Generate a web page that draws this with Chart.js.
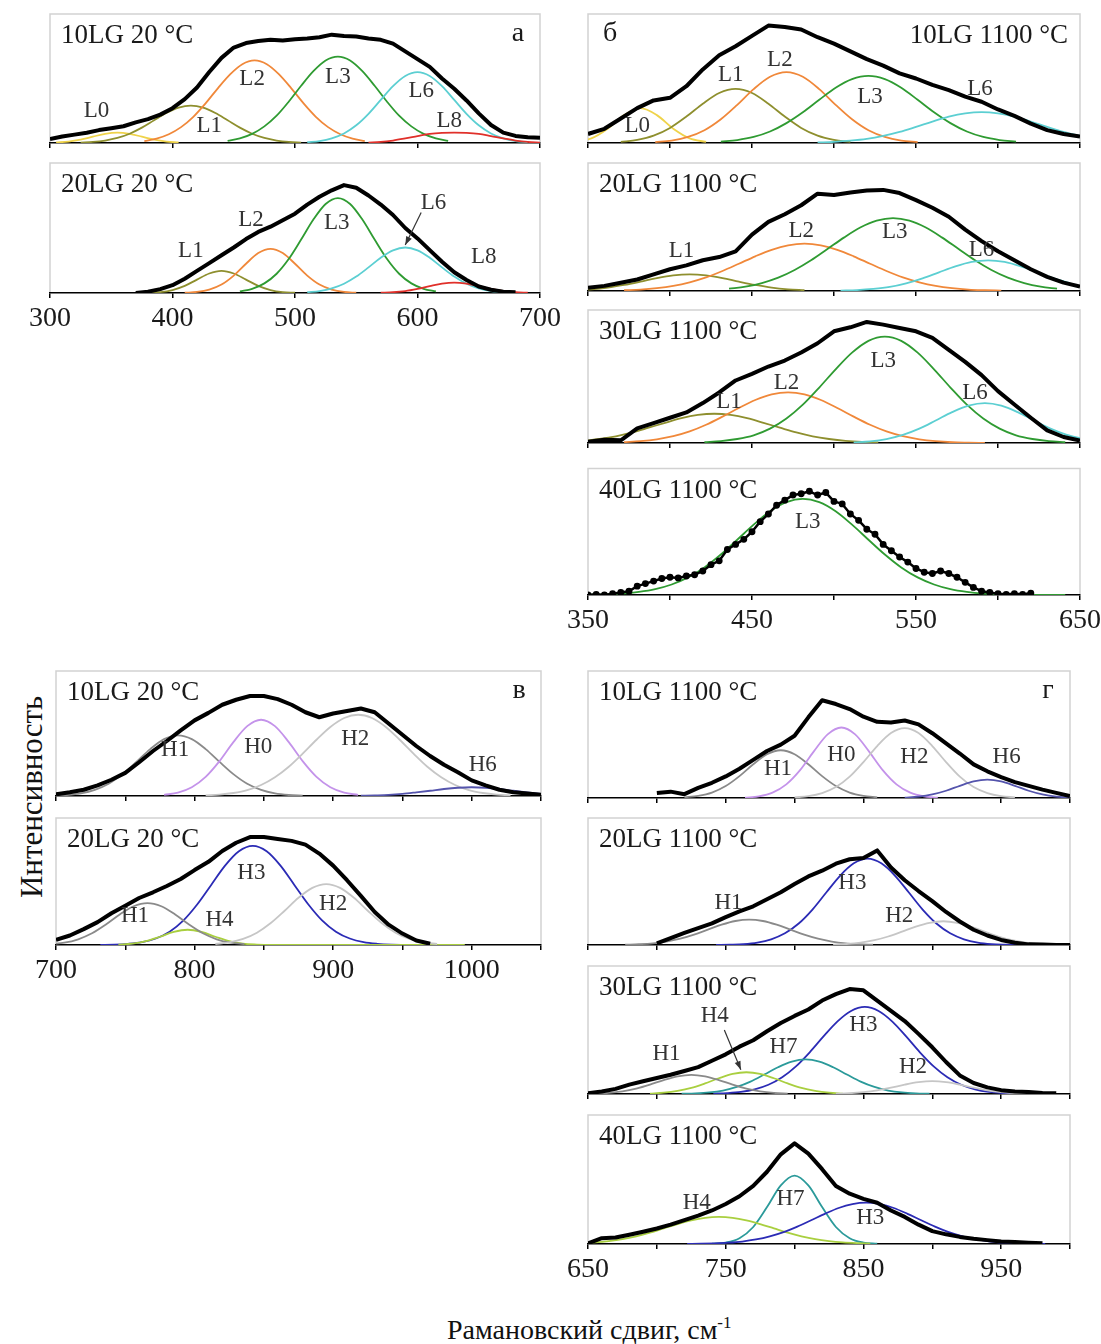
<!DOCTYPE html>
<html>
<head>
<meta charset="utf-8">
<script src="https://cdn.jsdelivr.net/npm/chart.js@4.4.1/dist/chart.umd.min.js"></script>
<style>
  html, body { margin: 0; padding: 0; background: #fff; }
  #page { position: relative; width: 1101px; height: 1344px; overflow: hidden;
          font-family: "Liberation Serif", "DejaVu Serif", serif; color: #111; }
  #page canvas { position: absolute; }
  .ytitle { position: absolute; left: 32px; top: 797px; font-size: 31px; white-space: nowrap;
            transform: translate(-50%, -50%) rotate(-90deg); }
  .xtitle { position: absolute; left: 447px; top: 1330px; font-size: 28px; white-space: nowrap;
            transform: translateY(-50%); }
  .xtitle sup { font-size: 17px; vertical-align: 11px; line-height: 0; }
</style>
</head>
<body>
<div id="page">
  <div class="ytitle">Интенсивность</div>
  <div class="xtitle">Рамановский сдвиг, см<sup>-1</sup></div>
</div>
<script>
// ---------- measured spectra (black), values every 10 cm-1 unless noted ----------
// а: 20 °C, low-frequency band
const a1Data = [3, 5, 6.5, 8, 10, 11.5, 13, 16, 18.5, 22, 27, 34, 43, 55, 66, 74, 77.5, 79, 80, 79.5,
  80.5, 81, 82, 84, 83, 82.5, 81, 80, 77, 71, 65, 59, 50, 42, 33, 23, 14, 8, 5.5, 4.5, 4];          // from 300
const a2Data = [0, 1, 3, 6, 11, 17, 23, 29, 35, 41.5, 47, 51, 56, 61, 68, 74, 79, 83, 81, 75,
  68, 60, 50, 42, 33, 24, 16, 10, 5, 2.5, 1, 0.5];                                                // from 370
// б: 1100 °C, low-frequency band
const b1Data = [7, 11, 19, 27, 33, 35, 44, 57, 68, 75, 83, 91, 90, 88, 82, 77, 71, 65, 60, 54,
  50, 45, 41, 36, 32, 26, 21, 15, 10, 7, 5];                                                       // from 350
const b2Data = [2.6, 4, 6.5, 9, 13, 17, 20, 24, 26.5, 31, 44, 54, 60, 67, 76, 75, 77, 78.5, 79, 76.5,
  71, 65, 58, 48, 39, 31, 24, 17, 11, 6.5, 3.4];                                                   // from 350
const b3Data = [1, 2.5, 2, 11, 15, 19, 23, 30, 38, 47, 52, 57.5, 62, 68, 75, 84, 87, 91, 89, 86.5,
  84, 79, 70, 61, 51, 39, 29, 19, 9.5, 4.5, 1.8];                                                  // from 350
const b4Data = [0, 0.5, 0, 1, 2, 3, 7, 9, 11, 13, 14, 13.5, 15, 16, 19, 24, 27, 36, 40, 44,
  50, 58, 64, 71, 75, 79, 80, 82, 79, 81, 74, 72, 64, 59, 52, 48, 40, 35, 30, 26,
  21, 18, 17, 19, 17, 14, 10, 6, 3, 2, 1, 0.5, 1, 0.5, 1.5];                                       // from 350, every 5
// в: 20 °C, high-frequency band
const c1Data = [1.3, 3, 5, 8.5, 13, 18.5, 27, 36, 44, 52.5, 60.5, 66.5, 73, 77, 80, 80, 77.5, 73, 67, 63,
  66, 68, 70, 67, 58, 49, 40, 32, 25, 19, 12.5, 8.5, 5, 3, 2, 1];                                  // from 700
const c2Data = [4, 7.5, 12.5, 18, 25, 31, 37, 41.5, 46.5, 52, 59, 65.5, 74, 80.5, 85, 85, 83.5, 82, 79, 72,
  62.5, 51, 38.7, 26, 16, 9, 3.5, 1];                                                              // from 700
// г: 1100 °C, high-frequency band
const d1Data = [4, 5, 3, 8, 12, 17, 23, 30, 37, 42, 49, 63.5, 77, 74, 70, 64, 60, 59.5, 61, 58,
  51, 43, 35, 26.5, 21, 16.5, 12.5, 9.5, 6.6, 4, 1.5];                                             // from 700
const d2Data = [1.3, 5.5, 9.5, 13.3, 17, 22, 26.5, 30.5, 36, 41.5, 48, 54, 58.5, 64, 67.5, 68.5, 74.5, 61, 51, 42.5,
  34.5, 26, 18.5, 12, 7.5, 4, 1.8, 0.5, 0.3, 0, 0];                                                // from 700
const d3Data = [0.5, 2, 4, 7.3, 10, 12.5, 15, 18, 21, 26, 31, 37, 42, 49, 55.5, 61, 66, 73, 78, 82,
  81, 73, 65, 57, 47, 36.5, 25, 14.5, 8.6, 5.2, 3, 2, 1.5, 0.8, 0.5];                              // from 650
const d4Data = [0.5, 4.5, 5, 7.2, 9.5, 12, 15, 18.5, 22, 26, 31, 37, 45, 56, 69.5, 78, 70, 58, 45, 39,
  35, 32, 26, 21, 15, 10, 7.5, 5.5, 4, 3, 2, 1.5, 1, 0.5];                                         // from 650

// ---------- fitted components, values every 10 cm-1 from the given start ----------
const a1L0 = [0.4, 1.1, 2.6, 4.9, 7.1, 8, 7.1, 4.9, 2.6, 1.1, 0.4];
const a1L1 = [0.3, 0.8, 1.9, 3.9, 7.2, 11.9, 17.6, 23.2, 27.4, 29, 27.4, 23.2, 17.6, 11.9, 7.2, 3.9, 1.9, 0.8, 0.3];
const a1L2 = [1.5, 3.4, 6.8, 12.3, 20.3, 30.7, 42.4, 53.2, 61.1, 64, 61.1, 53.2, 42.4, 30.7, 20.3, 12.3, 6.8, 3.4, 1.5];
const a1L3 = [1.6, 3.6, 7.1, 12.9, 21.2, 32.2, 44.4, 55.7, 64, 67, 64, 55.7, 44.4, 32.2, 21.2, 12.9, 7.1, 3.6, 1.6];
const a1L6 = [0.6, 1.5, 3.6, 7.4, 13.7, 22.6, 33.4, 44.1, 52, 55, 52, 44.1, 33.4, 22.6, 13.7, 7.4, 3.6, 1.5, 0.6];
const a1L8 = [0.3, 0.8, 1.9, 3.5, 5.3, 7, 7.8, 8, 7.8, 7, 5.3, 3.5, 1.9, 0.8, 0.3];

const a2L1 = [0.2, 0.7, 2.3, 5.5, 10.3, 15, 17, 15, 10.3, 5.5, 2.3, 0.7, 0.2];
const a2L2 = [0.2, 0.8, 2.6, 6.5, 13.4, 22.5, 30.7, 34, 30.7, 22.5, 13.4, 6.5, 2.6, 0.8, 0.2];
const a2L3 = [1.2, 3.2, 7.4, 14.8, 26.3, 41.1, 56.5, 68.5, 73, 68.5, 56.5, 41.1, 26.3, 14.8, 7.4, 3.2, 1.2];
const a2L6 = [0.6, 1.5, 3.5, 7.1, 12.6, 19.7, 27.1, 32.8, 35, 32.8, 27.1, 19.7, 12.6, 7.1, 3.5, 1.5, 0.6];
const a2L8 = [0.2, 0.6, 1.5, 3.2, 5.3, 7.2, 8, 7.2, 5.3, 3.2, 1.5, 0.6, 0.2];

const b1L0 = [0.8, 3.6, 11.1, 21.6, 27, 21.6, 11.1, 3.6, 0.8];
const b1L1 = [0.8, 2.4, 5.7, 11.7, 20.5, 30.5, 38.8, 42, 38.8, 30.5, 20.5, 11.7, 5.7, 2.4, 0.8];
const b1L2 = [0.7, 1.9, 4.7, 9.9, 18.4, 29.6, 41.8, 51.4, 55, 51.4, 41.8, 29.6, 18.4, 9.9, 4.7, 1.9, 0.7];
const b1L3 = [1, 2.3, 4.7, 8.9, 15.4, 23.8, 33.5, 42.8, 49.5, 52, 49.5, 42.8, 33.5, 23.8, 15.4, 8.9, 4.7, 2.3, 1];
const b1L6 = [0.4, 0.9, 1.8, 3.2, 5.5, 8.6, 12.5, 16.6, 20.4, 23, 24, 23, 20.4, 16.6, 12.5, 8.6, 5.5];

const b2L1 = [0.6, 1.3, 2.6, 4.7, 7.3, 10.1, 12.2, 13, 12.2, 10.1, 7.3, 4.7, 2.6, 1.3, 0.6];
const b2L2 = [0.6, 1.1, 2.2, 4, 6.8, 10.6, 15.6, 21.3, 27.1, 32.2, 35.7, 37, 35.7, 32.2, 27.1, 21.3, 15.6, 10.6, 6.8, 4, 2.2, 1.1, 0.6, 0.3];
const b2L3 = [1.8, 3.4, 6.2, 10.4, 16.4, 24, 32.8, 41.7, 49.6, 55, 57, 55, 49.6, 41.7, 32.8, 24, 16.4, 10.4, 6.2, 3.4, 1.8];
const b2L6 = [0.3, 0.7, 1.6, 3.2, 6, 9.9, 14.6, 19.2, 22.7, 24, 22.7, 19.2, 14.6, 9.9, 6];

const b3L1 = [1.6, 3, 5, 7.9, 11.5, 15.2, 18.7, 21.1, 22, 21.1, 18.7, 15.2, 11.5, 7.9, 5, 3, 1.6, 0.8, 0.4];
const b3L2 = [0.6, 1.4, 2.8, 5.1, 8.7, 13.7, 19.8, 26.3, 32.3, 36.5, 38, 36.5, 32.3, 26.3, 19.8, 13.7, 8.7, 5.1, 2.8, 1.4, 0.6, 0.3, 0.1];
const b3L3 = [0.6, 1.4, 3, 5.8, 10.8, 18.4, 28.8, 41.7, 55.4, 67.9, 76.8, 80, 76.8, 67.9, 55.4, 41.7, 28.8, 18.4, 10.8, 5.8, 3, 1.4, 0.6];
const b3L6 = [0.5, 1.3, 3, 6.1, 10.8, 16.9, 23.2, 28.1, 30, 28.1, 23.2, 16.9, 10.8, 6.1, 3];

const b4L3 = [0.2, 0.5, 1.1, 2.4, 4.6, 8.3, 13.9, 21.8, 32, 43.7, 55.6, 66.2, 73.4, 76, 73.4, 66.2, 55.6, 43.7, 32, 21.8,
  13.9, 8.3, 4.6, 2.4, 1.1, 0.5, 0.2, 0.1, 0, 0];

const c1H1 = [0.3, 0.8, 2.1, 4.9, 9.8, 17.5, 27.3, 37.5, 45.5, 48.5, 45.5, 37.5, 27.3, 17.5, 9.8, 4.9, 2.1, 0.8, 0.3];
const c1H0 = [0.9, 2.7, 7, 15.3, 27.9, 43.1, 55.9, 61, 55.9, 43.1, 27.9, 15.3, 7, 2.7, 0.9];
const c1H2 = [0.5, 1.1, 2.4, 4.7, 8.8, 15, 23.4, 33.9, 45, 55.2, 62.4, 65, 62.4, 55.2, 45, 33.9, 23.4, 15, 8.8, 4.7, 2.4, 1.1, 0.5];
const c1H6 = [0.2, 0.5, 0.9, 1.7, 2.9, 4.2, 5.6, 6.6, 7, 6.6, 5.6, 4.2, 2.9, 1.7];

const c2H1 = [0.7, 1.8, 4.5, 9.2, 16.1, 24, 30.5, 33, 30.5, 24, 16.1, 9.2, 4.5, 1.8, 0.7];
const c2H4 = [0.3, 1, 3, 6.5, 10.3, 12, 10.3, 6.5, 3, 1, 0.3, 0, 0, 0, 0, 0, 0, 0, 0, 0, 0, 0, 0, 0, 0, 0];
const c2H3 = [0.1, 0.3, 0.9, 2.2, 5.1, 10.5, 19.4, 32.1, 47.3, 62.5, 73.8, 78, 73.8, 62.5, 47.3, 32.1, 19.4, 10.5, 5.1, 2.2, 0.9, 0.3, 0.1];
const c2H2 = [0.8, 2.1, 4.8, 9.7, 17.3, 27, 37.2, 45, 48, 45, 37.2, 27, 17.3, 9.7, 4.8, 2.1, 0.8];

const d1H1 = [0.5, 1.7, 4.3, 9.4, 17.2, 26.6, 34.5, 37.6, 34.5, 26.6, 17.2, 9.4, 4.3, 1.7, 0.5];
const d1H0 = [0.3, 1.3, 4.2, 10.7, 21.9, 36.7, 50.1, 55.5, 50.1, 36.7, 21.9, 10.7, 4.2, 1.3, 0.3];
const d1H2 = [0.5, 1.5, 3.9, 8.6, 16.8, 28.3, 40.9, 51.1, 55, 51.1, 40.9, 28.3, 16.8, 8.6, 3.9, 1.5, 0.5];
const d1H6 = [0.3, 1.1, 2.8, 5.7, 9.6, 13.1, 14.5, 13.1, 9.6, 5.7, 2.8, 1.1, 0.3];

const d2H1 = [0.2, 0.6, 1.3, 2.7, 5, 8.2, 12.1, 16, 18.9, 20, 18.9, 16, 12.1, 8.2, 5, 2.7, 1.3, 0.6, 0.2];
const d2H3 = [0.1, 0.3, 0.7, 1.9, 4.5, 9.2, 16.9, 27.9, 41.3, 54.5, 64.3, 68, 64.3, 54.5, 41.3, 27.9, 16.9, 9.2, 4.5, 1.9, 0.7, 0.3, 0.1];
const d2H2 = [0.3, 0.8, 1.9, 3.8, 6.7, 10.5, 14.5, 17.5, 18.7, 17.5, 14.5, 10.5, 6.7, 3.8, 1.9, 0.8, 0.3];

const d3H1 = [0.3, 0.8, 2, 4.2, 7.3, 10.9, 13.8, 15, 13.8, 10.9, 7.3, 4.2, 2, 0.8, 0.3];
const d3H4 = [0.3, 1, 2.4, 4.7, 8.3, 12.3, 15.7, 17, 15.7, 12.3, 8.3, 4.7, 2.4, 1, 0.3];
const d3H7 = [0.2, 0.5, 1.2, 2.7, 5.5, 9.7, 15.2, 20.9, 25.3, 27, 25.3, 20.9, 15.2, 9.7, 5.5, 2.7, 1.2, 0.5, 0.2];
const d3H3 = [0.3, 0.7, 1.6, 3.6, 7.2, 13.1, 21.6, 32.6, 45, 56.6, 64.9, 68, 64.9, 56.6, 45, 32.6, 21.6, 13.1, 7.2, 3.6, 1.6, 0.7, 0.3];
const d3H2 = [0.2, 0.6, 1.4, 2.8, 4.9, 7.3, 9.2, 10, 9.2, 7.3, 4.9, 2.8, 1.4, 0.6, 0.2];

const d4H4 = [0.7, 1.3, 2.3, 3.8, 6, 8.8, 12.1, 15.4, 18.3, 20.3, 21, 20.3, 18.3, 15.4, 12.1, 8.8, 6, 3.8, 2.3, 1.3, 0.7, 0.3];
const d4H7 = [0.2, 1.1, 4.5, 13.2, 28.6, 45.4, 53, 45.4, 28.6, 13.2, 4.5, 1.1, 0.2];
const d4H3 = [0.1, 0.2, 0.5, 1, 1.9, 3.5, 5.9, 9.2, 13.5, 18.4, 23.4, 27.9, 30.9, 32, 30.9, 27.9, 23.4, 18.4, 13.5, 9.2,
  5.9, 3.5, 1.9, 1, 0.5, 0.2, 0.1];

// ---------- peak labels: [text, shift cm-1, intensity] ----------
const a1Notes = [['L0', 338, 25], ['L1', 430, 13], ['L2', 465, 50], ['L3', 535, 51], ['L6', 603, 40], ['L8', 626, 17]];
const a2Notes = [['L1', 415, 32], ['L2', 464, 56], ['L3', 534, 54], ['L6', 613, 69], ['L8', 654, 28]];
const b1Notes = [['L0', 380, 13], ['L1', 437, 53], ['L2', 467, 64], ['L3', 522, 36], ['L6', 589, 42]];
const b2Notes = [['L1', 407, 31], ['L2', 480, 47], ['L3', 537, 46], ['L6', 590, 32]];
const b3Notes = [['L1', 436, 31], ['L2', 471, 45], ['L3', 530, 62], ['L6', 586, 38]];
const b4Notes = [['L3', 484, 58]];
const c1Notes = [['H1', 786, 37], ['H0', 846, 39], ['H2', 916, 46], ['H6', 1008, 25]];
const c2Notes = [['H1', 757, 23], ['H4', 818, 20], ['H3', 841, 57], ['H2', 900, 32]];
const d1Notes = [['H1', 788, 23], ['H0', 834, 34], ['H2', 887, 32], ['H6', 954, 32]];
const d2Notes = [['H1', 752, 33], ['H3', 842, 49], ['H2', 876, 23]];
const d3Notes = [['H1', 707, 31], ['H4', 742, 61], ['H7', 792, 37], ['H3', 850, 54], ['H2', 886, 21]];
const d4Notes = [['H4', 729, 32], ['H7', 797, 35], ['H3', 855, 20]];
// arrows: [from shift, from intensity, to shift, to intensity]
const a2Arrows = [[603, 62, 590, 37]];
const d3Arrows = [[749, 50, 761, 19]];

const colors = {
  L0: '#efd34a', L1: '#8e8f2e', L2: '#f0883a', L3: '#2f9b32', L6: '#5ccfd2', L8: '#e0302a',
  H0: '#c493ea', H1: '#8a8a8a', H2: '#c6c6c6', H3: '#2b2bb5', H4: '#a9cf3f', H6: '#5454ac', H7: '#2b9a9a'
};

// layout of the 12 frames: [left, top, width, height] in page pixels
const panels = [
  { box: [50, 14, 490, 129], xr: [300, 700, 100], labels: false, title: '10LG 20 °C', tag: 'а',
    data: [300, 10, a1Data], comps: [['L8', 560, a1L8], ['L6', 510, a1L6], ['L3', 445, a1L3], ['L2', 377, a1L2], ['L1', 325, a1L1], ['L0', 305, a1L0]], notes: a1Notes },
  { box: [50, 163, 490, 130], xr: [300, 700, 100], labels: true, title: '20LG 20 °C',
    data: [370, 10, a2Data], comps: [['L8', 570, a2L8], ['L6', 510, a2L6], ['L3', 455, a2L3], ['L2', 410, a2L2], ['L1', 380, a2L1]], notes: a2Notes, arrows: a2Arrows },
  { box: [588, 14, 492, 129], xr: [350, 650, 50], labels: false, title: '10LG 1100 °C', tag: 'б', tagLeft: true,
    data: [350, 10, b1Data], comps: [['L6', 490, b1L6], ['L3', 431, b1L3], ['L2', 391, b1L2], ['L1', 370, b1L1], ['L0', 342, b1L0]], notes: b1Notes },
  { box: [588, 163, 492, 128], xr: [350, 650, 50], labels: false, title: '20LG 1100 °C',
    data: [350, 10, b2Data], comps: [['L6', 504, b2L6], ['L3', 436, b2L3], ['L2', 372, b2L2], ['L1', 342, b2L1]], notes: b2Notes },
  { box: [588, 310, 492, 133], xr: [350, 650, 50], labels: false, title: '30LG 1100 °C',
    data: [350, 10, b3Data], comps: [['L6', 512, b3L6], ['L3', 421, b3L3], ['L2', 372, b3L2], ['L1', 347, b3L1]], notes: b3Notes },
  { box: [588, 466, 492, 129], xr: [350, 650, 50], labels: true, title: '40LG 1100 °C', dots: true,
    data: [350, 5, b4Data], comps: [['L3', 351, b4L3]], notes: b4Notes },
  { box: [56, 671, 485, 125], xr: [700, 1050, 50], labels: false, title: '10LG 20 °C', tag: 'в',
    data: [700, 10, c1Data], comps: [['H6', 920, c1H6], ['H2', 808, c1H2], ['H0', 778, c1H0], ['H1', 698, c1H1]], notes: c1Notes },
  { box: [56, 818, 485, 127], xr: [700, 1050, 50], labels: true, title: '20LG 20 °C',
    data: [700, 10, c2Data], comps: [['H2', 815, c2H2], ['H1', 696, c2H1], ['H4', 745, c2H4], ['H3', 732, c2H3]], notes: c2Notes },
  { box: [588, 671, 482, 127], xr: [650, 1000, 50], labels: false, title: '10LG 1100 °C', tag: 'г',
    data: [700, 10, d1Data], comps: [['H6', 880, d1H6], ['H2', 800, d1H2], ['H0', 764, d1H0], ['H1', 720, d1H1]], notes: d1Notes },
  { box: [588, 818, 482, 127], xr: [650, 1000, 50], labels: false, title: '20LG 1100 °C',
    data: [700, 10, d2Data], comps: [['H2', 828, d2H2], ['H1', 677, d2H1], ['H3', 743, d2H3]], notes: d2Notes },
  { box: [588, 966, 482, 128], xr: [650, 1000, 50], labels: false, title: '30LG 1100 °C',
    data: [650, 10, d3Data], comps: [['H2', 830, d3H2], ['H1', 655, d3H1], ['H4', 695, d3H4], ['H7', 718, d3H7], ['H3', 741, d3H3]], notes: d3Notes, arrows: d3Arrows },
  { box: [588, 1115, 482, 129], xr: [650, 1000, 50], labels: true, title: '40LG 1100 °C',
    data: [650, 10, d4Data], comps: [['H3', 722, d4H3], ['H4', 645, d4H4], ['H7', 740, d4H7]], notes: d4Notes }
];

const SERIF = '"Liberation Serif", "DejaVu Serif", serif';
const PAD = 40, PADT = 4;

function series(x0, step, values) {
  return values.map((v, i) => ({ x: x0 + i * step, y: v }));
}

function decor(p) {
  return {
    id: 'decor',
    beforeDatasetsDraw(chart) {
      const { ctx, chartArea: a } = chart;
      ctx.save();
      ctx.strokeStyle = '#d2d2d2';
      ctx.lineWidth = 1.5;
      ctx.beginPath();
      ctx.moveTo(a.left, a.bottom - 1);
      ctx.lineTo(a.left, a.top);
      ctx.lineTo(a.right, a.top);
      ctx.lineTo(a.right, a.bottom - 1);
      ctx.stroke();
      ctx.restore();
    },
    afterDatasetsDraw(chart) {
      const { ctx, chartArea: a, scales: { x, y } } = chart;
      ctx.save();
      ctx.fillStyle = '#333';
      ctx.textAlign = 'center';
      ctx.textBaseline = 'middle';
      ctx.font = '23px ' + SERIF;
      (p.notes || []).forEach(([t, nx, ny]) => ctx.fillText(t, x.getPixelForValue(nx), y.getPixelForValue(ny)));
      ctx.strokeStyle = '#333';
      ctx.lineWidth = 1.2;
      (p.arrows || []).forEach(([x1, y1, x2, y2]) => {
        const ax = x.getPixelForValue(x1), ay = y.getPixelForValue(y1);
        const bx = x.getPixelForValue(x2), by = y.getPixelForValue(y2);
        const ang = Math.atan2(by - ay, bx - ax);
        ctx.beginPath();
        ctx.moveTo(ax, ay);
        ctx.lineTo(bx, by);
        ctx.stroke();
        ctx.beginPath();
        ctx.moveTo(bx, by);
        ctx.lineTo(bx - 9 * Math.cos(ang - 0.35), by - 9 * Math.sin(ang - 0.35));
        ctx.lineTo(bx - 9 * Math.cos(ang + 0.35), by - 9 * Math.sin(ang + 0.35));
        ctx.closePath();
        ctx.fill();
      });
      // sample title and panel letter
      ctx.fillStyle = '#1a1a1a';
      ctx.font = '27px ' + SERIF;
      if (p.tagLeft) {
        ctx.textAlign = 'right';
        ctx.fillText(p.title, a.right - 12, a.top + 22);
        ctx.textAlign = 'center';
        ctx.font = '28px ' + SERIF;
        ctx.fillText(p.tag, a.left + 22, a.top + 20);
      } else {
        ctx.textAlign = 'left';
        ctx.fillText(p.title, a.left + 11, a.top + 22);
        if (p.tag) {
          ctx.textAlign = 'center';
          ctx.font = '28px ' + SERIF;
          ctx.fillText(p.tag, a.right - 22, a.top + 20);
        }
      }
      ctx.restore();
    }
  };
}

const page = document.getElementById('page');

panels.forEach((p) => {
  const [L, T, W, H] = p.box;
  const axisH = p.labels ? 48 : 6;
  const cv = document.createElement('canvas');
  cv.width = W + 2 * PAD;
  cv.height = PADT + H + axisH;
  cv.style.left = (L - PAD) + 'px';
  cv.style.top = (T - PADT) + 'px';
  page.appendChild(cv);

  const [x0, step, vals] = p.data;
  const datasets = [{
    data: series(x0, step, vals),
    borderColor: '#000',
    backgroundColor: '#000',
    borderWidth: p.dots ? 2.5 : 4,
    pointRadius: p.dots ? 2.2 : 0,
    tension: 0,
    borderJoinStyle: 'round',
    order: 0
  }];
  p.comps.forEach(([name, start, v], i) => {
    datasets.push({
      data: series(start, 10, v),
      borderColor: colors[name],
      borderWidth: 1.8,
      pointRadius: 0,
      cubicInterpolationMode: 'monotone',
      order: i + 1
    });
  });

  const [xmin, xmax, stepX] = p.xr;
  new Chart(cv, {
    type: 'line',
    data: { datasets },
    options: {
      responsive: false,
      devicePixelRatio: 1,
      animation: false,
      events: [],
      layout: { padding: { left: PAD, right: PAD, top: PADT, bottom: 0 } },
      plugins: { legend: { display: false }, tooltip: { enabled: false } },
      scales: {
        x: {
          type: 'linear',
          min: xmin,
          max: xmax,
          afterFit: (s) => { s.height = axisH; },
          grid: { display: true, drawOnChartArea: false, drawTicks: true, tickLength: 5, color: '#000', lineWidth: 1.5 },
          border: { display: true, color: '#000', width: 1.5 },
          ticks: {
            display: p.labels,
            stepSize: stepX,
            autoSkip: false,
            maxRotation: 0,
            padding: 4,
            color: '#1a1a1a',
            font: { family: SERIF, size: 28 },
            callback: (v) => ((v - xmin) % 100 === 0 ? String(v) : '')
          }
        },
        y: { display: false, min: 0, max: 100 }
      }
    },
    plugins: [decor(p)]
  });
});
</script>
</body>
</html>
